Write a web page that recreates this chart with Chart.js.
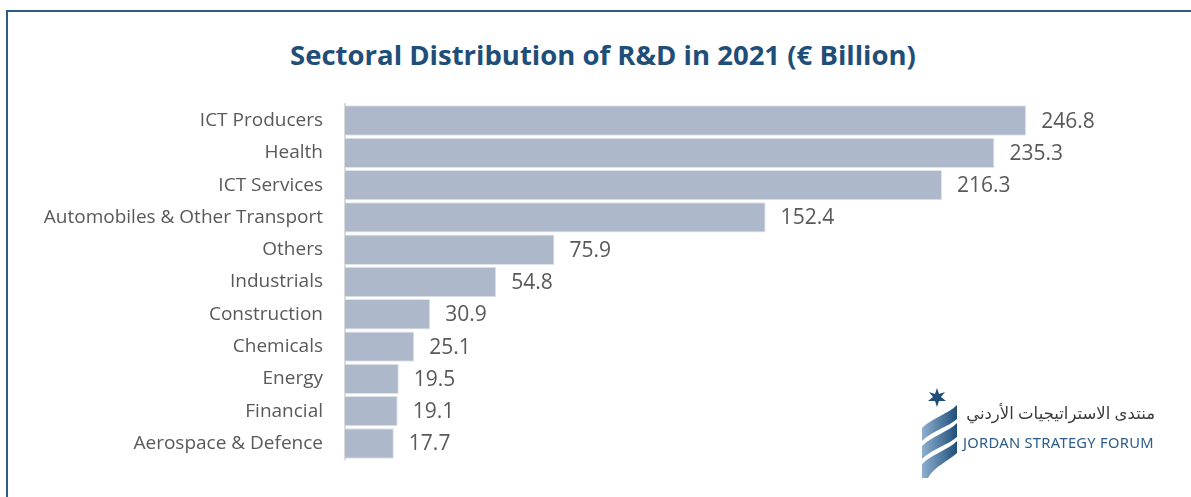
<!DOCTYPE html>
<html>
<head>
<meta charset="utf-8">
<script src="https://cdn.jsdelivr.net/npm/chart.js@4"></script>
<style>
  html, body { margin: 0; padding: 0; background: #fff; }
  body { width: 1191px; height: 497px; position: relative; overflow: hidden; font-family: "Open Sans", "Noto Sans", sans-serif; }
  #frame { position: absolute; left: 6px; top: 10px; width: 1300px; height: 600px; border-left: 2px solid #2e5b88; border-top: 2px solid #2e5b88; }
  #title { position: absolute; left: 0; top: 36px; width: 1206px; text-align: center; font-size: 27.5px; font-weight: 700; color: #1f4e79; }
  #chartBox { position: absolute; left: 0; top: 71px; width: 1191px; height: 422px; }
  #logo { position: absolute; left: 918px; top: 388px; width: 260px; height: 95px; }
  #logoAr { position: absolute; left: 40px; top: 13px; width: 197px; text-align: right; direction: rtl; font-family: "Noto Sans", "DejaVu Sans", sans-serif; font-size: 16.5px; color: #3b3b3b; white-space: nowrap; }
  #logoEn { position: absolute; left: 45px; top: 44px; font-family: "Noto Sans", sans-serif; font-size: 14.7px; color: #2b5c8a; letter-spacing: 0.3px; white-space: nowrap; }
</style>
</head>
<body>
<div id="frame"></div>
<div id="title">Sectoral Distribution of R&amp;D in 2021 (€ Billion)</div>
<div id="chartBox"><canvas id="rdChart"></canvas></div>
<div id="logo">
  <svg width="45" height="95" viewBox="0 0 45 95">
    <defs>
      <linearGradient id="rib" x1="0" y1="0" x2="1" y2="0">
        <stop offset="0" stop-color="#8fb0cf"/>
        <stop offset="1" stop-color="#1f4e79"/>
      </linearGradient>
    </defs>
    <polygon points="19,0 21,6 27,4 23,9 28,13 21,13 19,19 17,13 10,13 15,9 11,4 17,6" fill="#1f4e79"/>
    <path d="M4,40 C14,30 30,26 39,17 L39,31 C30,39 14,43 4,53 Z" fill="url(#rib)"/>
    <path d="M4,58 C14,48 30,44 39,35 L39,49 C30,57 14,61 4,71 Z" fill="url(#rib)"/>
    <path d="M4,76 C14,66 30,62 39,53 L39,65 C30,73 16,79 10,90 L4,90 Z" fill="url(#rib)"/>
  </svg>
  <div id="logoAr">منتدى الاستراتيجيات الأردني</div>
  <div id="logoEn">JORDAN STRATEGY FORUM</div>
</div>
<script>
// Sectors and R&D spend (EUR billion), top to bottom
const sectors = [
  "ICT Producers",
  "Health",
  "ICT Services",
  "Automobiles & Other Transport",
  "Others",
  "Industrials",
  "Construction",
  "Chemicals",
  "Energy",
  "Financial",
  "Aerospace & Defence",
];
const spend = [246.8, 235.3, 216.3, 152.4, 75.9, 54.8, 30.9, 25.1, 19.5, 19.1, 17.7];

// Draw the value just past the end of each bar
const valueLabels = {
  id: "valueLabels",
  afterDatasetsDraw(chart) {
    const ctx = chart.ctx;
    const meta = chart.getDatasetMeta(0);
    ctx.save();
    ctx.font = "21px 'Open Sans', 'Noto Sans', sans-serif";
    ctx.fillStyle = "#595959";
    ctx.textAlign = "left";
    ctx.textBaseline = "middle";
    meta.data.forEach((bar, i) => {
      ctx.fillText(spend[i].toFixed(1), bar.x + 15, bar.y + 1);
    });
    ctx.restore();
  },
};

new Chart(document.getElementById("rdChart"), {
  type: "bar",
  data: {
    labels: sectors,
    datasets: [
      {
        data: spend,
        backgroundColor: "#adb8cb",
        borderColor: "#dfe3ea",
        borderWidth: 1,
        categoryPercentage: 1,
        barPercentage: 0.94,
      },
    ],
  },
  options: {
    indexAxis: "y",
    responsive: true,
    maintainAspectRatio: false,
    animation: false,
    layout: { padding: { top: 10, bottom: 16, right: 18, left: 0 } },
    plugins: {
      legend: { display: false },
      title: { display: false },
      tooltip: { enabled: false },
    },
    scales: {
      x: {
        display: false,
        min: 0,
        max: 300,
      },
      y: {
        afterFit: (scale) => {
          scale.width = 345;
        },
        grid: { display: false, drawTicks: false },
        border: { display: true, color: "#d9d9d9", width: 2 },
        ticks: {
          color: "#595959",
          padding: 22,
          font: { size: 19, family: "'Open Sans', 'Noto Sans', sans-serif" },
        },
      },
    },
  },
  plugins: [valueLabels],
});
</script>
</body>
</html>
